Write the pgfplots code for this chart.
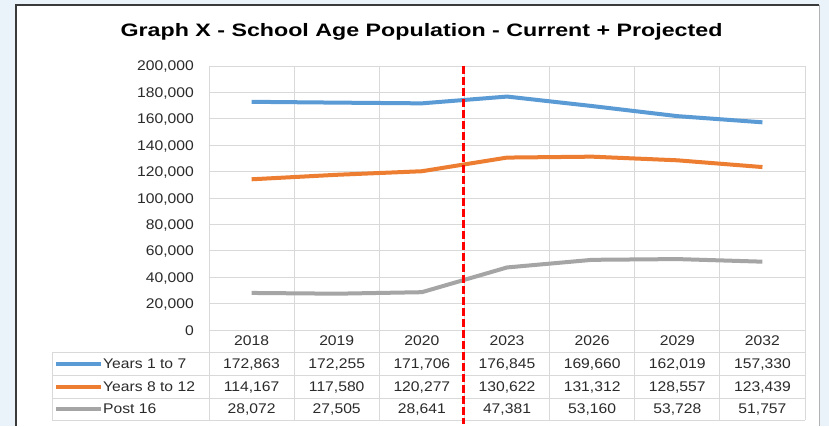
\documentclass[border=0pt]{standalone}
\usepackage{fontspec}
\setmainfont{Liberation Sans}
\newfontfamily\tickfont[FakeStretch=1.12]{Liberation Sans}
\newfontfamily\titlefont[FakeStretch=1.29]{Liberation Sans}
\usepackage{pgfplots}
\pgfplotsset{compat=1.18}
\definecolor{bgblue}{HTML}{EAF2FA}
\definecolor{framedark}{HTML}{3A3A3A}
\definecolor{gridc}{HTML}{D9D9D9}
\definecolor{tickc}{HTML}{2B2B2B}
\definecolor{sblue}{HTML}{5B9BD5}
\definecolor{sorange}{HTML}{ED7D31}
\definecolor{sgray}{HTML}{A5A5A5}
\begin{document}
\begin{tikzpicture}
\path[use as bounding box] (0,0) rectangle (829pt,426pt);
\fill[bgblue] (0,0) rectangle (829pt,426pt);
\fill[white] (16pt,0) rectangle (819pt,421pt);
\draw[framedark, line width=1.2pt] (16pt,0) -- (16pt,421pt) -- (819pt,421pt);
\draw[gray!60, line width=1pt] (819pt,421pt) -- (819pt,0);
% title
\node[anchor=base, font=\titlefont\bfseries\fontsize{18}{20}\selectfont] at (421.5pt,389pt) {Graph X - School Age Population - Current + Projected};
% vertical grid / table lines
\foreach \k in {0,...,7} {
  \draw[gridc, line width=0.8pt] ({(209+85.142857*\k)*1pt},6pt) -- ({(209+85.142857*\k)*1pt},360pt);
}
\foreach \yy in {74,51,28,6} {
  \draw[gridc, line width=0.8pt] (52pt,\yy pt) -- (805pt,\yy pt);
}
\draw[gridc, line width=0.8pt] (52pt,74pt) -- (52pt,6pt);
% legend keys and row labels
\begin{scope}[font=\tickfont\fontsize{14}{16}\selectfont, text=tickc]
\draw[sblue, line width=4pt] (56pt,62.5pt) -- (101pt,62.5pt);
\draw[sorange, line width=4pt] (56pt,39.5pt) -- (101pt,39.5pt);
\draw[sgray, line width=4pt] (56pt,17pt) -- (101pt,17pt);
\node[anchor=base west, inner sep=0pt] at (103pt,58pt) {Years 1 to 7};
\node[anchor=base west, inner sep=0pt] at (103pt,35pt) {Years 8 to 12};
\node[anchor=base west, inner sep=0pt] at (103pt,12.5pt) {Post 16};
% table values
\foreach \v [count=\i from 0] in {{172,863},{172,255},{171,706},{176,845},{169,660},{162,019},{157,330}} {
  \node[anchor=base, inner sep=0pt] at ({(251.57+85.142857*\i)*1pt},58pt) {\v};
}
\foreach \v [count=\i from 0] in {{114,167},{117,580},{120,277},{130,622},{131,312},{128,557},{123,439}} {
  \node[anchor=base, inner sep=0pt] at ({(251.57+85.142857*\i)*1pt},35pt) {\v};
}
\foreach \v [count=\i from 0] in {{28,072},{27,505},{28,641},{47,381},{53,160},{53,728},{51,757}} {
  \node[anchor=base, inner sep=0pt] at ({(251.57+85.142857*\i)*1pt},12.5pt) {\v};
}
\end{scope}
\begin{axis}[
  at={(209pt,96pt)}, anchor=south west, scale only axis,
  width=596pt, height=264pt,
  xmin=-0.5, xmax=6.5, ymin=0, ymax=200000, clip=false,
  axis line style={draw=gridc, line width=0.8pt},
  xtick={0,...,6}, xticklabels={2018,2019,2020,2023,2026,2029,2032},
  ytick={0,20000,40000,60000,80000,100000,120000,140000,160000,180000,200000},
  yticklabels={0,{20,000},{40,000},{60,000},{80,000},{100,000},{120,000},{140,000},{160,000},{180,000},{200,000}},
  scaled y ticks=false,
  major tick length=0pt,
  ymajorgrids, grid style={gridc, line width=0.8pt},
  tick label style={font=\tickfont\fontsize{14}{16}\selectfont, text=tickc, inner sep=0pt},
  yticklabel style={anchor=base east, xshift=-15pt, yshift=-5pt},
  xticklabel style={anchor=base, yshift=-15pt},
]
\addplot[sblue, line width=4pt] coordinates {(0,172863) (1,172255) (2,171706) (3,176845) (4,169660) (5,162019) (6,157330)};
\addplot[sorange, line width=4pt] coordinates {(0,114167) (1,117580) (2,120277) (3,130622) (4,131312) (5,128557) (6,123439)};
\addplot[sgray, line width=4pt] coordinates {(0,28072) (1,27505) (2,28641) (3,47381) (4,53160) (5,53728) (6,51757)};
\addplot[red, line width=3.5pt, dash pattern=on 8pt off 3pt] coordinates {(2.49,200000) (2.49,-71212)};
\end{axis}
\end{tikzpicture}
\end{document}
